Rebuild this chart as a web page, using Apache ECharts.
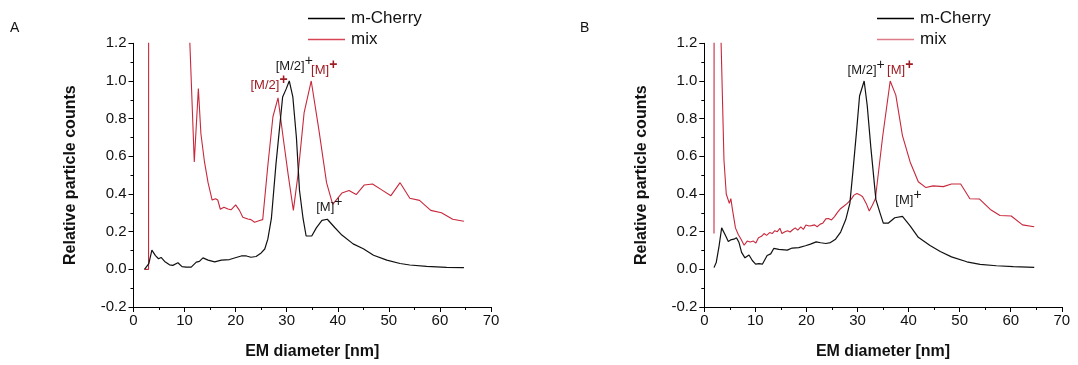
<!DOCTYPE html>
<html>
<head>
<meta charset="utf-8">
<script src="https://cdn.jsdelivr.net/npm/echarts@6/dist/echarts.min.js"></script>
<style>
  html, body { margin: 0; padding: 0; background: #fff; }
  #chart { width: 1078px; height: 365px; }
</style>
</head>
<body>
<div id="chart"></div>
<script>
// EM diameter (nm) and relative particle counts, panel A
const sizeA_cherry = [2.15, 3.0, 3.6, 4.3, 4.9, 5.4, 6.1, 7.05, 7.7, 8.7, 9.5, 10.3, 11.3, 12.3, 12.9, 13.6, 14.6, 15.9, 17.2, 18.8, 20.1, 21.1, 22.1, 23.0, 24.0, 25.0, 25.7, 26.3, 27.0, 27.9, 29.2, 29.9, 30.5, 31.2, 31.9, 32.5, 33.2, 33.8, 34.9, 35.8, 36.9, 37.95, 39.4, 40.8, 43.0, 45.0, 47.0, 49.6, 52.2, 54.1, 57.4, 61.3, 64.7];
const countA_cherry = [0, 0.03, 0.102, 0.073, 0.056, 0.063, 0.042, 0.024, 0.021, 0.035, 0.014, 0.012, 0.012, 0.038, 0.042, 0.061, 0.049, 0.040, 0.049, 0.052, 0.063, 0.071, 0.071, 0.064, 0.068, 0.087, 0.108, 0.16, 0.27, 0.56, 0.915, 0.958, 1.0, 0.915, 0.70, 0.42, 0.27, 0.177, 0.177, 0.22, 0.26, 0.266, 0.222, 0.182, 0.135, 0.109, 0.075, 0.049, 0.031, 0.023, 0.016, 0.010, 0.009];

const sizeA_mix = [2.15, 2.95, 3.05, 5.0, 8.0, 10.9, 11.9, 12.7, 13.2, 13.9, 14.6, 15.4, 16.06, 16.5, 17.0, 17.7, 18.5, 19.1, 20.0, 20.75, 21.4, 22.4, 23.0, 23.7, 24.7, 25.3, 26.3, 27.3, 28.3, 29.3, 30.3, 31.3, 32.2, 33.4, 34.8, 36.3, 37.8, 39.0, 40.8, 42.2, 43.6, 45.2, 46.8, 48.6, 50.4, 52.2, 54.1, 56.0, 58.2, 60.3, 62.5, 64.7];
const countA_mix = [0, 0, 12, 4, 2, 1.3, 0.57, 0.96, 0.72, 0.57, 0.46, 0.368, 0.375, 0.368, 0.319, 0.33, 0.32, 0.316, 0.342, 0.313, 0.276, 0.267, 0.264, 0.25, 0.259, 0.264, 0.55, 0.81, 0.91, 0.70, 0.50, 0.313, 0.50, 0.83, 1.0, 0.74, 0.46, 0.345, 0.405, 0.418, 0.397, 0.448, 0.453, 0.422, 0.391, 0.46, 0.377, 0.366, 0.313, 0.30, 0.266, 0.255];

// panel B
const sizeB_cherry = [1.9, 2.35, 2.9, 3.4, 3.65, 4.2, 4.7, 5.15, 5.8, 6.3, 6.8, 7.3, 7.96, 8.75, 9.4, 10.05, 10.7, 11.4, 12.3, 13.0, 13.6, 14.6, 16.25, 17.2, 18.5, 19.8, 20.8, 21.9, 22.8, 23.8, 24.7, 25.7, 26.7, 27.7, 28.5, 29.1, 29.8, 30.4, 31.3, 31.9, 32.6, 33.6, 34.4, 35.05, 36.0, 37.3, 38.8, 40.3, 41.9, 44.2, 46.2, 48.4, 51.4, 54.0, 57.2, 60.5, 64.6];
const countB_cherry = [0.009, 0.038, 0.125, 0.22, 0.226, 0.177, 0.148, 0.156, 0.16, 0.168, 0.142, 0.09, 0.061, 0.076, 0.047, 0.028, 0.03, 0.028, 0.073, 0.082, 0.111, 0.106, 0.102, 0.113, 0.115, 0.125, 0.134, 0.146, 0.141, 0.137, 0.142, 0.16, 0.198, 0.264, 0.35, 0.52, 0.73, 0.92, 1.0, 0.87, 0.65, 0.37, 0.30, 0.245, 0.245, 0.274, 0.281, 0.231, 0.17, 0.127, 0.095, 0.066, 0.04, 0.026, 0.019, 0.014, 0.01];

const sizeB_mix = [1.9, 2.05, 2.6, 3.2, 3.85, 4.3, 4.6, 4.9, 5.2, 5.5, 6.1, 6.65, 7.2, 7.8, 8.4, 9.0, 9.6, 10.1, 10.6, 11.2, 11.7, 12.2, 12.8, 13.3, 13.8, 14.3, 14.8, 15.2, 15.8, 16.3, 16.8, 17.3, 17.8, 18.3, 18.9, 19.4, 19.9, 20.5, 21.0, 21.6, 22.1, 22.7, 23.2, 23.8, 24.3, 24.9, 25.5, 26.0, 26.6, 27.3, 28.0, 28.7, 29.3, 29.9, 30.5, 31.0, 31.7, 32.3, 32.9, 33.5, 34.9, 36.4, 37.5, 38.8, 40.3, 41.9, 43.4, 44.8, 46.8, 48.4, 50.2, 52.0, 53.9, 56.0, 57.9, 60.1, 62.3, 64.6];
const countB_mix = [0.19, 10, 5, 1.3, 0.58, 0.40, 0.39, 0.35, 0.375, 0.32, 0.22, 0.185, 0.16, 0.128, 0.15, 0.145, 0.15, 0.14, 0.168, 0.175, 0.19, 0.18, 0.195, 0.19, 0.205, 0.2, 0.218, 0.19, 0.2, 0.205, 0.198, 0.21, 0.22, 0.208, 0.225, 0.212, 0.235, 0.23, 0.232, 0.236, 0.226, 0.24, 0.245, 0.268, 0.27, 0.262, 0.28, 0.30, 0.32, 0.335, 0.35, 0.37, 0.394, 0.403, 0.395, 0.385, 0.35, 0.31, 0.34, 0.375, 0.70, 1.0, 0.925, 0.71, 0.57, 0.465, 0.434, 0.443, 0.439, 0.453, 0.453, 0.375, 0.373, 0.318, 0.286, 0.283, 0.236, 0.226];

// axis ticks
const xTicks = [0, 10, 20, 30, 40, 50, 60, 70];
const yTicks = [-0.2, 0, 0.2, 0.4, 0.6, 0.8, 1.0, 1.2];

// peak annotations: [series, nm, count, label]
const peaksA = [
  ['cherry', 30.5, 1.0, '[M/2]'],
  ['mix', 34.8, 1.0, '[M]'],
  ['mix', 28.3, 0.91, '[M/2]'],
  ['cherry', 37.95, 0.266, '[M]']
];
const peaksB = [
  ['cherry', 31.3, 1.0, '[M/2]'],
  ['mix', 36.4, 1.0, '[M]'],
  ['cherry', 38.8, 0.281, '[M]']
];

const FONT = 'Liberation Sans, Arial, Helvetica, sans-serif';
const BLACK = '#111111';
const RED = '#c8283c';
const DARKRED = '#a01c24';

const zip = (xs, ys) => xs.map((x, i) => [x, ys[i]]);

// label placement around each peak (offset x, gap above)
const placeA = [[5, 8], [13, 4], [-9, 6], [2, 5]];
const placeB = [[2, 4], [10, 4], [6, 9]];

function markPoints(peaks, place, which) {
  const data = [];
  peaks.forEach((p, i) => {
    if (p[0] !== which) return;
    const col = which === 'mix' ? DARKRED : '#1a1a1a';
    data.push({
      coord: [p[1], p[2]],
      label: {
        show: true,
        position: 'top',
        distance: place[i][1],
        offset: [place[i][0], 0],
        formatter: '{b|' + p[3] + '}{s|+}',
        rich: {
          b: { fontFamily: FONT, fontSize: 13, color: col, lineHeight: 19, verticalAlign: 'bottom' },
          s: { fontFamily: FONT, fontSize: 14, color: col, lineHeight: 19, verticalAlign: 'top', fontWeight: which === 'mix' ? 'bold' : 'normal' }
        }
      }
    });
  });
  return { symbol: 'circle', symbolSize: 0, silent: true, animation: false, data };
}

function xAxis(gi) {
  return {
    gridIndex: gi, type: 'value', min: 0, max: 70, interval: 10,
    name: 'EM diameter [nm]', nameLocation: 'middle', nameGap: 37,
    nameTextStyle: { fontFamily: FONT, fontSize: 16, fontWeight: 'bold', color: '#111' },
    axisLine: { onZero: false, lineStyle: { color: '#000', width: 1 } },
    axisTick: { show: true, inside: false, length: 5, lineStyle: { color: '#000' } },
    minorTick: { show: true, splitNumber: 2, length: 3, lineStyle: { color: '#000' } },
    splitLine: { show: false },
    axisLabel: {
      fontFamily: FONT, fontSize: 15, color: '#111', margin: 6,
      formatter: v => (xTicks.indexOf(v) >= 0 ? String(v) : '')
    }
  };
}

function yAxis(gi) {
  return {
    gridIndex: gi, type: 'value', min: -0.2, max: 1.2, interval: 0.2,
    name: 'Relative particle counts', nameLocation: 'middle', nameGap: 55,
    nameTextStyle: { fontFamily: FONT, fontSize: 16, fontWeight: 'bold', color: '#111' },
    axisLine: { show: true, lineStyle: { color: '#000', width: 1 } },
    axisTick: { show: true, inside: false, length: 5, lineStyle: { color: '#000' } },
    minorTick: { show: true, splitNumber: 2, length: 3, lineStyle: { color: '#000' } },
    splitLine: { show: false },
    axisLabel: {
      fontFamily: FONT, fontSize: 15, color: '#111', margin: 7,
      formatter: v => {
        const r = Math.round(v * 10) / 10;
        return yTicks.some(t => Math.abs(t - r) < 1e-6) ? r.toFixed(1) : '';
      }
    }
  };
}

function lineSeries(name, gi, data, color, width, peaks, place, which) {
  return {
    name, type: 'line', xAxisIndex: gi, yAxisIndex: gi,
    data, symbol: 'none', showSymbol: false, clip: true, animation: false,
    lineStyle: { color, width }, itemStyle: { color },
    z: which === 'mix' ? 2 : 3,
    markPoint: markPoints(peaks, place, which)
  };
}

// legend keys drawn as thin horizontal strokes
function legend(left, mixColor) {
  return {
    orient: 'vertical', left, top: 10, padding: 0,
    icon: 'rect', itemWidth: 37, itemHeight: 1.3, itemGap: 4,
    textStyle: { fontFamily: FONT, fontSize: 17, color: '#111', padding: [0, 0, 0, 1], lineHeight: 17 },
    data: [
      { name: 'm-Cherry', itemStyle: { color: '#000' } },
      { name: 'mix', itemStyle: { color: mixColor } }
    ],
    selectedMode: false
  };
}

function panelTitle(text, left) {
  return {
    text, left, top: 21, padding: 0,
    textStyle: { fontFamily: FONT, fontSize: 14, fontWeight: 'normal', color: '#111' }
  };
}

const chart = echarts.init(document.getElementById('chart'), null, { renderer: 'canvas' });
chart.setOption({
  backgroundColor: '#ffffff',
  animation: false,
  title: [panelTitle('A', 10), panelTitle('B', 580)],
  legend: [legend(308, '#d64455'), legend(877, '#dc7c88')],
  grid: [
    { left: 133.5, width: 357.5, top: 43.3, height: 269 },
    { left: 704.3, width: 357.5, top: 43.3, height: 269 }
  ],
  xAxis: [xAxis(0), xAxis(1)],
  yAxis: [yAxis(0), yAxis(1)],
  series: [
    lineSeries('mix', 0, zip(sizeA_mix, countA_mix), RED, 1.1, peaksA, placeA, 'mix'),
    lineSeries('m-Cherry', 0, zip(sizeA_cherry, countA_cherry), BLACK, 1.2, peaksA, placeA, 'cherry'),
    lineSeries('mix', 1, zip(sizeB_mix, countB_mix), RED, 1.1, peaksB, placeB, 'mix'),
    lineSeries('m-Cherry', 1, zip(sizeB_cherry, countB_cherry), BLACK, 1.2, peaksB, placeB, 'cherry')
  ]
});
</script>
</body>
</html>
